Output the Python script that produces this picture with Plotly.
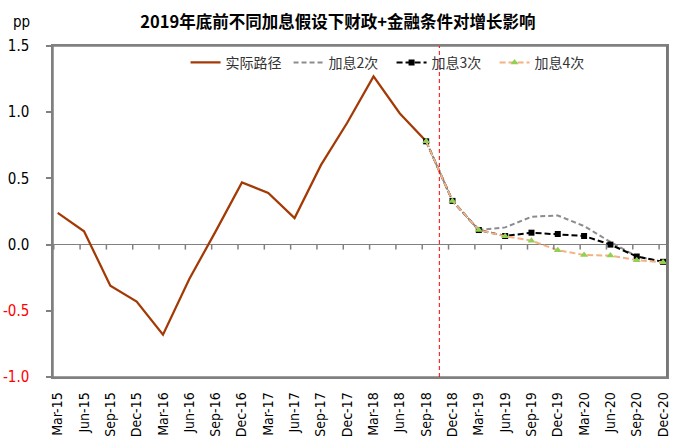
import plotly.graph_objects as go

# ---- data ----
quarters = ["Mar-15", "Jun-15", "Sep-15", "Dec-15", "Mar-16", "Jun-16", "Sep-16", "Dec-16",
            "Mar-17", "Jun-17", "Sep-17", "Dec-17", "Mar-18", "Jun-18", "Sep-18", "Dec-18",
            "Mar-19", "Jun-19", "Sep-19", "Dec-19", "Mar-20", "Jun-20", "Sep-20", "Dec-20"]
actual_path = [0.24, 0.10, -0.31, -0.43, -0.68, -0.26, 0.10, 0.47,
               0.39, 0.20, 0.60, 0.92, 1.27, 0.99, 0.78]
hike_2 = [0.78, 0.33, 0.11, 0.13, 0.21, 0.22, 0.14, 0.02, -0.09, -0.13]
hike_3 = [0.78, 0.33, 0.11, 0.065, 0.09, 0.08, 0.065, 0.0, -0.09, -0.13]
hike_4 = [0.78, 0.33, 0.11, 0.063, 0.03, -0.043, -0.078, -0.083, -0.118, -0.133]
forecast_start = 14          # index of Sep-18, where scenarios begin
divider_pos = 14.5           # position of the red dashed separator (between Sep-18 and Dec-18)
y_ticks = [-1.0, -0.5, 0.0, 0.5, 1.0, 1.5]
series_names = ["实际路径", "加息2次", "加息3次", "加息4次"]
title_text = "2019年底前不同加息假设下财政+金融条件对增长影响"

idx = list(range(len(quarters)))
x_actual = idx[:len(actual_path)]
x_fc = idx[forecast_start:forecast_start + len(hike_2)]

tick_font = "DejaVu Sans Condensed, DejaVu Sans, sans-serif"
cjk_font = "Noto Sans CJK SC, Noto Sans, sans-serif"
axis_gray = "#808080"
x_range = [-0.179, 23.15]
y_range = [y_ticks[0], y_ticks[-1]]

fig = go.Figure()
fig.add_trace(go.Scatter(x=x_actual, y=actual_path, name=series_names[0], mode="lines",
                         line=dict(color="#A33A06", width=2.25)))
fig.add_trace(go.Scatter(x=x_fc, y=hike_2, name=series_names[1], mode="lines",
                         line=dict(color="#8C8C8C", width=2, dash="5px,3px")))
fig.add_trace(go.Scatter(x=x_fc, y=hike_3, name=series_names[2], mode="lines+markers",
                         line=dict(color="#000000", width=2, dash="6px,3px"),
                         marker=dict(symbol="square", size=6, color="#000000")))
fig.add_trace(go.Scatter(x=x_fc, y=hike_4, name=series_names[3], mode="lines+markers",
                         line=dict(color="#F4B183", width=2, dash="6px,3px"),
                         marker=dict(symbol="triangle-up", size=7, color="#92D050")))

def ytext(v):
    s = f"{v:.1f}"
    return f'<span style="color:#FF0000">{s}</span>' if v < 0 else s

fig.update_layout(
    width=682, height=438,
    margin=dict(l=53, r=15, t=46, b=61, autoexpand=False),
    paper_bgcolor="white", plot_bgcolor="white",
    title=dict(text=title_text, x=0.464, xref="paper", xanchor="center",
               y=1 - 22 / 438, yref="container", yanchor="middle",
               font=dict(family=cjk_font, size=16.5, color="#000000", weight="bold")),
    xaxis=dict(range=x_range, tickvals=idx, ticktext=quarters, tickangle=-90,
               ticks="", showline=True, mirror=True, linecolor=axis_gray, linewidth=1.5,
               showgrid=False, zeroline=False,
               ticklabelstandoff=8, automargin=False,
               tickfont=dict(family=tick_font, size=14, color="#000000")),
    yaxis=dict(range=y_range, tickvals=y_ticks, ticktext=[ytext(v) for v in y_ticks],
               ticks="outside", ticklen=5, tickwidth=1.5, tickcolor=axis_gray,
               showline=True, mirror=True, linecolor=axis_gray, linewidth=1.5, showgrid=False,
               zeroline=True, zerolinecolor=axis_gray, zerolinewidth=1,
               ticklabelstandoff=14, automargin=False,
               tickfont=dict(family=tick_font, size=15, color="#000000")),
    legend=dict(orientation="h", x=0.5514, xanchor="center", y=0.949, yanchor="middle",
                bgcolor="rgba(0,0,0,0)", font=dict(family=cjk_font, size=14, color="#333333"),
                itemwidth=30, tracegroupgap=0, entrywidth=58, entrywidthmode="pixels"),
    showlegend=True,
)
# plot frame drawn in axis-domain coordinates
fig.add_shape(type="rect", x0=0, x1=1, y0=0, y1=1, xref="x domain", yref="y domain",
              line=dict(color=axis_gray, width=1.5), fillcolor="rgba(0,0,0,0)", layer="above")
# slightly heavier right edge of the plot frame
fig.add_shape(type="line", x0=1, x1=1, y0=0, y1=1, xref="x domain", yref="y domain",
              line=dict(color="#777777", width=2), layer="above")
# category tick marks hanging below the zero line
for i in idx:
    fig.add_shape(type="line", xref="x", yref="y", ysizemode="pixel", yanchor=0,
                  x0=i - 0.15, x1=i - 0.15, y0=0, y1=-5, line=dict(color=axis_gray, width=1.5))
fig.add_shape(type="line", x0=divider_pos, x1=divider_pos, xref="x", y0=y_range[0], y1=y_range[1],
              yref="y", line=dict(color="#FF0000", width=1, dash="4px,3px"))
fig.add_annotation(text="pp", x=-0.052, y=1.072, xref="paper", yref="paper",
                   showarrow=False, xanchor="center", yanchor="middle",
                   font=dict(family=tick_font, size=15, color="#000000"))

fig.write_html("out.html", config={"displayModeBar": False},
               post_script="document.body.style.margin='0';")
